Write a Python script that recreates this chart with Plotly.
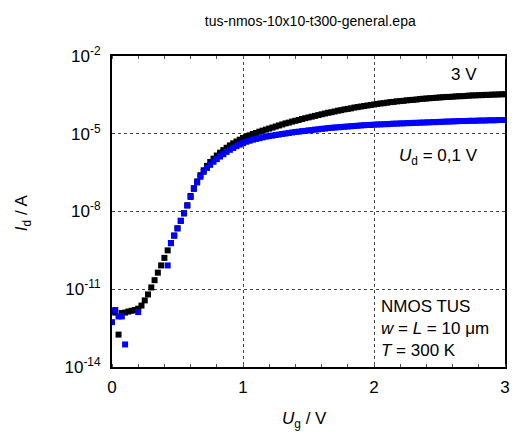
import plotly.graph_objects as go

# Gate voltage grid (V)
ug = [round(i * 0.025, 3) for i in range(121)]

# log10(Id / A) for Ud = 3 V (black)
log_id_3v = [
    -11.85, -11.90, -12.75, -11.92, -11.90, -11.86, -11.83, -11.80, -11.75, -11.63,
    -11.43, -11.20, -10.93, -10.65, -10.36, -10.08, -9.79, -9.50, -9.22, -8.93,
    -8.65, -8.36, -8.07, -7.76, -7.40, -7.10, -6.84, -6.60, -6.41, -6.24,
    -6.09, -5.96, -5.84, -5.73, -5.63, -5.54, -5.45, -5.37, -5.30, -5.23,
    -5.16, -5.11, -5.06, -5.01, -4.97, -4.92, -4.88, -4.84, -4.80, -4.76,
    -4.72, -4.68, -4.64, -4.60, -4.57, -4.53, -4.50, -4.47, -4.43, -4.40,
    -4.37, -4.34, -4.31, -4.28, -4.25, -4.22, -4.19, -4.17, -4.14, -4.11,
    -4.09, -4.06, -4.04, -4.02, -3.99, -3.97, -3.95, -3.93, -3.91, -3.89,
    -3.87, -3.85, -3.83, -3.82, -3.80, -3.78, -3.77, -3.75, -3.74, -3.73,
    -3.71, -3.70, -3.69, -3.68, -3.66, -3.65, -3.64, -3.63, -3.62, -3.61,
    -3.60, -3.59, -3.58, -3.58, -3.57, -3.56, -3.55, -3.55, -3.54, -3.53,
    -3.52, -3.52, -3.51, -3.51, -3.50, -3.50, -3.49, -3.49, -3.48, -3.48,
    -3.47,
]

# log10(Id / A) for Ud = 0.1 V (blue); None = no point visible
log_id_01v = [
    -12.27, -11.80, -12.05, -12.05, -13.13, None, None, None, -11.88, None,
    None, None, None, None, None, None, None, -10.08, -9.22, -8.93,
    -8.65, -8.36, -8.07, -7.77, -7.44, -7.13, -6.88, -6.66, -6.47, -6.32,
    -6.20, -6.08, -5.98, -5.88, -5.79, -5.70, -5.62, -5.55, -5.48, -5.42,
    -5.36, -5.31, -5.27, -5.23, -5.20, -5.17, -5.14, -5.11, -5.09, -5.07,
    -5.05, -5.03, -5.01, -4.99, -4.97, -4.95, -4.93, -4.92, -4.90, -4.89,
    -4.87, -4.86, -4.84, -4.83, -4.81, -4.80, -4.78, -4.77, -4.76, -4.75,
    -4.74, -4.73, -4.72, -4.71, -4.70, -4.69, -4.68, -4.67, -4.66, -4.66,
    -4.65, -4.64, -4.64, -4.63, -4.63, -4.62, -4.61, -4.61, -4.60, -4.60,
    -4.59, -4.59, -4.58, -4.58, -4.57, -4.57, -4.56, -4.56, -4.55, -4.55,
    -4.54, -4.54, -4.53, -4.53, -4.52, -4.52, -4.51, -4.51, -4.51, -4.50,
    -4.50, -4.50, -4.49, -4.49, -4.49, -4.48, -4.48, -4.48, -4.47, -4.47,
    -4.47,
]

x_ticks = [0, 1, 2, 3]
y_exponents = [-14, -11, -8, -5, -2]

id_3v = [10 ** v for v in log_id_3v]
id_01v = [None if v is None else 10 ** v for v in log_id_01v]

FONT = "Liberation Sans, Arial, sans-serif"

fig = go.Figure()
fig.add_trace(go.Scatter(x=ug, y=id_3v, mode="markers", name="3 V",
                         marker=dict(symbol="square", size=6, color="#000000",
                                     line=dict(width=0))))
fig.add_trace(go.Scatter(x=ug, y=id_01v, mode="markers", name="0,1 V",
                         marker=dict(symbol="square", size=6, color="#0000ff",
                                     line=dict(width=0))))

fig.update_layout(
    width=512, height=440,
    margin=dict(l=112, r=2, t=56, b=73),
    paper_bgcolor="white", plot_bgcolor="white",
    showlegend=False,
    font=dict(family=FONT, size=17, color="black"),
    title=dict(text="tus-nmos-10x10-t300-general.epa", x=0.606, xanchor="center",
               y=1 - 21 / 440, yanchor="middle",
               font=dict(family=FONT, size=14, color="black")),
)

fig.update_xaxes(
    range=[0, 3], tickvals=x_ticks, ticktext=[str(t) for t in x_ticks],
    showline=True, linecolor="black", linewidth=2, mirror="allticks",
    showgrid=True, gridcolor="#444444", gridwidth=1, griddash="3px,3px",
    ticks="", zeroline=False, ticklabeloverflow="allow",
    minor=dict(dtick=0.2, ticks="inside", ticklen=3, tickcolor="#555555", showgrid=False),
    tickfont=dict(size=17), ticklabelstandoff=4,
)
fig.update_yaxes(
    type="log", range=[-14, -2],
    tickvals=[10 ** e for e in y_exponents],
    ticktext=["10<sup>%d</sup>" % e for e in y_exponents],
    showline=True, linecolor="black", linewidth=2, mirror=True,
    showgrid=True, gridcolor="#444444", gridwidth=1, griddash="3px,3px",
    ticks="", zeroline=False,
    tickfont=dict(size=17), ticklabelstandoff=6,
)

ann = dict(showarrow=False, font=dict(family=FONT, size=17, color="black"))
fig.add_annotation(xref="paper", yref="paper", x=0.935, y=0.939, xanchor="right",
                   yanchor="middle", text="3 V", **ann)
fig.add_annotation(xref="paper", yref="paper", x=0.724, y=0.675, xanchor="left",
                   yanchor="middle", text="<i>U</i><sub>d</sub> = 0,1 V", **ann)
fig.add_annotation(xref="paper", yref="paper", x=0.679, y=0.125, xanchor="left",
                   yanchor="middle", align="left",
                   text="NMOS TUS<br><i>w</i> = <i>L</i> = 10 \u03bcm<br><i>T</i> = 300 K", **ann)
fig.add_annotation(xref="paper", yref="paper", x=0.49, y=(367 - 420) / 311,
                   xanchor="center", yanchor="middle",
                   text="<i>U</i><sub>g</sub> / V", **ann)
fig.add_annotation(xref="paper", yref="paper", x=(22 - 112) / 398, y=(367 - 213) / 311,
                   xanchor="center", yanchor="middle", textangle=-90,
                   text="<i>I</i><sub>d</sub> / A", **ann)

fig.write_html("out.html")
